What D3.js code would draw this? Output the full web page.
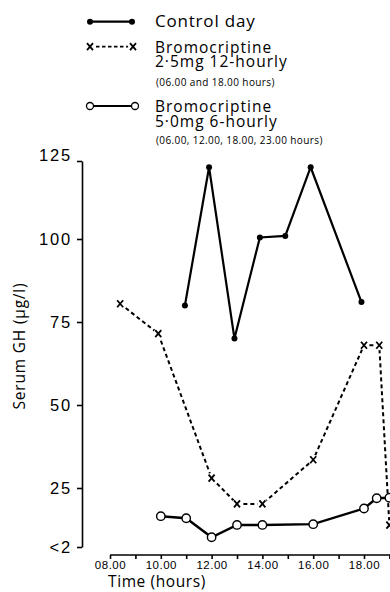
<!DOCTYPE html>
<html>
<head>
<meta charset="utf-8">
<script src="https://cdn.jsdelivr.net/npm/d3@7"></script>
<style>
  body { margin: 0; background: #fff; }
  svg { display: block; font-family: "Open Sans", "DejaVu Sans", sans-serif; }
  .axis path, .axis line { stroke: #000; stroke-width: 1.6; }
  .axis text { fill: #000; }
</style>
</head>
<body>
<div id="chart"></div>
<script>
// ---- data ----
const hoursControl = [10.95, 11.9, 12.9, 13.9, 14.9, 15.9, 17.9];
const ghControl    = [80, 123, 70, 100.5, 101, 123, 81];

const hoursBromo25 = [8.4, 9.9, 12, 13, 14, 16, 18, 18.6, 19];
const ghBromo25    = [80.5, 71.5, 28, 18.8, 18.8, 33.5, 68, 68, 10.5];

const hoursBromo50 = [10, 11, 12, 13, 14, 16, 18, 18.5, 19];
const ghBromo50    = [14, 13.2, 5.8, 10.6, 10.6, 10.9, 17, 21, 21.2];

const yTickValues = [2, 25, 50, 75, 100, 125];
const yTickLabels = ["<2", "25", "50", "75", "100", "125"];
const xTickValues = d3.range(8, 20);
const xTickLabels = {8: "08.00", 10: "10.00", 12: "12.00", 14: "14.00", 16: "16.00", 18: "18.00"};

const width = 390, height = 592;

const svg = d3.select("#chart")
    .append("svg")
    .attr("width", width)
    .attr("height", height);

/*********************/
/* Scales            */
/*********************/
const xScale = d3.scaleLinear()
    .domain([8, 19])
    .range([110, 389.4]);

// broken axis: the "<2" to 25 span is compressed, as in the original
const yScale = d3.scaleLinear()
    .domain([2, 25, 100, 125])
    .range([547, 488, 239, 161]);

/*********************/
/* Axes              */
/*********************/
const leftAxis = d3.axisLeft(yScale)
    .tickValues(yTickValues)
    .tickFormat((d, i) => yTickLabels[i])
    .tickSize(5)
    .tickSizeOuter(0);

const yAxisG = svg.append("g")
    .attr("class", "axis")
    .attr("transform", "translate(82,0)")
    .call(leftAxis);
yAxisG.selectAll("text")
    .attr("x", -10)
    .attr("font-size", 16.5)
    .attr("letter-spacing", "1.8")
    .attr("dy", (d) => d === 125 ? "-0.05em" : "0.35em");

const bottomAxis = d3.axisBottom(xScale)
    .tickValues(xTickValues)
    .tickFormat(d => xTickLabels[d] || "")
    .tickSize(4)
    .tickSizeOuter(0);

const xAxisG = svg.append("g")
    .attr("class", "axis")
    .attr("transform", "translate(0,555)")
    .call(bottomAxis);
xAxisG.select(".domain").attr("d", "M110,0H390");
xAxisG.selectAll("text")
    .attr("y", 6)
    .attr("font-size", 11.5)
    .attr("letter-spacing", "0.5");

// axis titles
svg.append("text")
    .text("Time (hours)")
    .attr("x", 108)
    .attr("y", 587)
    .attr("font-size", 15.5)
    .attr("letter-spacing", "0.6");

svg.append("text")
    .text("Serum GH (\u03bcg/l)")
    .attr("transform", "translate(25,346) rotate(-90)")
    .attr("text-anchor", "middle")
    .attr("font-size", 15.5)
    .attr("letter-spacing", "0.8");

/*********************/
/* Marker helpers    */
/*********************/
const solidLine = (sel) => sel.attr("fill", "none").attr("stroke", "#000").attr("stroke-width", 2.2);

function drawCross(g, x, y) {
    g.append("circle").attr("cx", x).attr("cy", y).attr("r", 5).attr("fill", "#fff");
    g.append("path")
        .attr("d", `M${x - 3},${y - 3.5}L${x + 3},${y + 3.5}M${x + 3},${y - 3.5}L${x - 3},${y + 3.5}`)
        .attr("stroke", "#000")
        .attr("stroke-width", 1.8);
}

/*********************/
/* Series            */
/*********************/
const line = d3.line().x(d => xScale(d[0])).y(d => yScale(d[1]));

// Control day
const controlData = d3.zip(hoursControl, ghControl);
svg.append("path").datum(controlData).attr("d", line).call(solidLine);
svg.append("g").selectAll("circle")
    .data(controlData)
    .join("circle")
        .attr("cx", d => xScale(d[0]))
        .attr("cy", d => yScale(d[1]))
        .attr("r", 3)
        .attr("fill", "#000");

// Bromocriptine 2.5mg 12-hourly
const bromo25Data = d3.zip(hoursBromo25, ghBromo25);
svg.append("path").datum(bromo25Data)
    .attr("d", line)
    .attr("fill", "none")
    .attr("stroke", "#000")
    .attr("stroke-width", 2)
    .attr("stroke-dasharray", "4,3");
const crossG = svg.append("g");
bromo25Data.forEach(d => drawCross(crossG, xScale(d[0]), yScale(d[1])));

// Bromocriptine 5.0mg 6-hourly
const bromo50Data = d3.zip(hoursBromo50, ghBromo50);
svg.append("path").datum(bromo50Data).attr("d", line).call(solidLine).attr("stroke-width", 2.4);
svg.append("g").selectAll("circle")
    .data(bromo50Data)
    .join("circle")
        .attr("cx", d => xScale(d[0]))
        .attr("cy", d => yScale(d[1]))
        .attr("r", 4.2)
        .attr("fill", "#fff")
        .attr("stroke", "#000")
        .attr("stroke-width", 1.4);

/*********************/
/* Legend            */
/*********************/
const legend = svg.append("g");

// control day
legend.append("path").attr("d", "M90,21.7H132").call(solidLine);
[90, 132].forEach(x => legend.append("circle").attr("cx", x).attr("cy", 21.7).attr("r", 3).attr("fill", "#000"));
legend.append("text").text("Control day").attr("x", 155).attr("y", 27).attr("font-size", 17).attr("letter-spacing", "0.8");

// 2.5mg
legend.append("path").attr("d", "M90,46.7H133")
    .attr("stroke", "#000").attr("stroke-width", 1.8).attr("stroke-dasharray", "3.5,2.5");
[90, 133].forEach(x => drawCross(legend, x, 46.7));
legend.append("text").text("Bromocriptine").attr("x", 155).attr("y", 52.7).attr("font-size", 15.5).attr("letter-spacing", "1");
legend.append("text").text("2\u00b75mg 12-hourly").attr("x", 155).attr("y", 67).attr("font-size", 15.5).attr("letter-spacing", "1");
legend.append("text").text("(06.00 and 18.00 hours)").attr("x", 156).attr("y", 86).attr("font-size", 10).attr("letter-spacing", "0.4");

// 5.0mg
legend.append("path").attr("d", "M90,106H135").call(solidLine);
[90, 135].forEach(x => legend.append("circle").attr("cx", x).attr("cy", 106).attr("r", 3.5)
    .attr("fill", "#fff").attr("stroke", "#000").attr("stroke-width", 1.3));
legend.append("text").text("Bromocriptine").attr("x", 155).attr("y", 112).attr("font-size", 15.5).attr("letter-spacing", "1");
legend.append("text").text("5\u00b70mg 6-hourly").attr("x", 155).attr("y", 126.5).attr("font-size", 15.5).attr("letter-spacing", "1");
legend.append("text").text("(06.00, 12.00, 18.00, 23.00 hours)").attr("x", 156).attr("y", 143.5).attr("font-size", 10).attr("letter-spacing", "0.4");
</script>
</body>
</html>
